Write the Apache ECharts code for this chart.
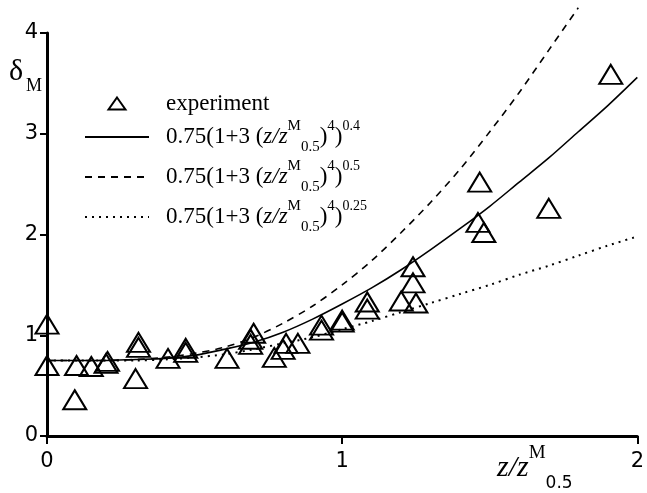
<!DOCTYPE html>
<html>
<head>
<meta charset="utf-8">
<script src="https://cdn.jsdelivr.net/npm/echarts@6/dist/echarts.min.js"></script>
<style>
html,body{margin:0;padding:0;background:#fff;}
#chart{width:647px;height:493px;}
</style>
</head>
<body>
<div id="chart"></div>
<script>
// ---- data ----
var expZ = [0, 0, 0.10, 0.094, 0.15, 0.205, 0.20, 0.31, 0.31, 0.30, 0.41, 0.47, 0.47, 0.61, 0.70, 0.69, 0.69, 0.77, 0.81, 0.80, 0.85, 0.93, 0.93, 1.0, 1.0, 1.085, 1.085, 1.24, 1.24, 1.20, 1.25, 1.466, 1.70, 1.46, 1.48, 1.91];
var expY = [1.11, 0.70, 0.70, 0.36, 0.69, 0.74, 0.72, 0.93, 0.88, 0.57, 0.77, 0.87, 0.83, 0.77, 1.02, 0.96, 0.91, 0.78, 0.92, 0.86, 0.92, 1.10, 1.05, 1.15, 1.13, 1.33, 1.26, 1.68, 1.52, 1.34, 1.32, 2.52, 2.26, 2.12, 2.02, 3.59];

var curveZ = [0, 0.1, 0.2, 0.3, 0.4, 0.5, 0.6, 0.7, 0.8, 0.9, 1.0, 1.1, 1.2, 1.3, 1.4, 1.5, 1.6, 1.7, 1.8, 1.9, 2.0];
var solidY  = [0.75, 0.75, 0.75, 0.76, 0.77, 0.80, 0.86, 0.93, 1.03, 1.16, 1.31, 1.47, 1.65, 1.85, 2.06, 2.28, 2.52, 2.76, 3.02, 3.28, 3.56];
var dashedY = [0.75, 0.75, 0.75, 0.76, 0.78, 0.82, 0.88, 0.98, 1.12, 1.29, 1.50, 1.74, 2.02, 2.32, 2.65, 3.02, 3.41, 3.83, 4.25];
var dottedY = [0.75, 0.75, 0.75, 0.75, 0.76, 0.78, 0.81, 0.86, 0.92, 0.98, 1.06, 1.14, 1.23, 1.32, 1.41, 1.50, 1.60, 1.69, 1.79, 1.89, 1.98];

var xTicks = [0, 1, 2];
var yTicks = [0, 1, 2, 3, 4];

var names = ['experiment', '0.75(1+3 (z/zM0.5)4)0.4', '0.75(1+3 (z/zM0.5)4)0.5', '0.75(1+3 (z/zM0.5)4)0.25'];
var exps = ['', '0.4', '0.5', '0.25'];

function zip(xs, ys) { var o = []; for (var i = 0; i < ys.length; i++) o.push([xs[i], ys[i]]); return o; }

var serif = '"Liberation Serif", "Times New Roman", serif';
var sans = '"DejaVu Sans", Verdana, sans-serif';

var chart = echarts.init(document.getElementById('chart'), null, {renderer: 'canvas'});
var option = {
  animation: false,
  backgroundColor: '#fff',
  grid: {left: 47, right: 5, top: 33, bottom: 57, containLabel: false},
  xAxis: {
    type: 'value', min: 0, max: 2, interval: 1,
    axisLine: {show: true, lineStyle: {color: '#000', width: 3}},
    axisTick: {show: true, length: 8, lineStyle: {color: '#000', width: 2}},
    axisLabel: {color: '#000', fontFamily: sans, fontSize: 21, margin: 15,
      formatter: function (v) { return xTicks.indexOf(v) >= 0 ? String(v) : ''; }},
    splitLine: {show: false}
  },
  yAxis: {
    type: 'value', min: 0, max: 4, interval: 1,
    axisLine: {show: true, lineStyle: {color: '#000', width: 3}},
    axisTick: {show: true, length: 7, lineStyle: {color: '#000', width: 2}},
    axisLabel: {color: '#000', fontFamily: sans, fontSize: 21, margin: 9,
      formatter: function (v) { return yTicks.indexOf(v) >= 0 ? String(v) : ''; }},
    splitLine: {show: false}
  },
  legend: {
    orient: 'vertical', left: 84, top: 92, padding: 0,
    itemWidth: 64, itemHeight: 12, itemGap: 4,
    data: [
      {name: names[0], icon: 'path://M12,0L24,17L0,17Z'},
      {name: names[1]}, {name: names[2]}, {name: names[3]}
    ],
    selectedMode: false,
    formatter: function (name) {
      var i = names.indexOf(name);
      if (i === 0) return '{pad|}{n|experiment}';
      return '{pad|}{n|0.75(1+3 (}{i|z/z}{sup|M}{sub|0.5}{n|)}{sup|4}{n|)}{sup2|' + exps[i] + '}';
    },
    textStyle: {
      color: '#000', fontFamily: serif, fontSize: 23,
      rich: {
        pad: {width: 12},
        n: {fontFamily: serif, fontSize: 23, lineHeight: 36, color: '#000'},
        i: {fontFamily: serif, fontSize: 23, lineHeight: 36, fontStyle: 'italic', color: '#000'},
        sup: {fontFamily: serif, fontSize: 15, lineHeight: 16, verticalAlign: 'top', color: '#000'},
        sup2: {fontFamily: serif, fontSize: 14, lineHeight: 10, verticalAlign: 'top', color: '#000'},
        sub: {fontFamily: serif, fontSize: 15, lineHeight: 14, verticalAlign: 'bottom', color: '#000'}
      }
    }
  },
  graphic: [
    {type: 'text', left: 9, top: 57, style: {text: 'δ', font: '30px "Liberation Serif", serif', fill: '#000'}},
    {type: 'text', left: 26, top: 77, style: {text: 'M', font: '18px "Liberation Serif", serif', fill: '#000'}},
    {type: 'text', left: 497, top: 444, style: {
      text: '{z|z/z}{sup|M}{sub|0.5}',
      rich: {
        z: {fontFamily: serif, fontSize: 30, fontStyle: 'italic', lineHeight: 48, color: '#000'},
        sup: {fontFamily: serif, fontSize: 19, lineHeight: 18, verticalAlign: 'top', color: '#000'},
        sub: {fontFamily: sans, fontSize: 17, lineHeight: 16, verticalAlign: 'bottom', color: '#000'}
      }
    }}
  ],
  series: [
    {
      name: names[0], type: 'scatter', data: zip(expZ, expY), z: 5,
      symbol: 'triangle', symbolSize: [23, 19],
      itemStyle: {color: 'rgba(0,0,0,0)', borderColor: '#000', borderWidth: 2, opacity: 1}
    },
    {
      name: names[1], type: 'line', data: zip(curveZ, solidY), smooth: 0.3,
      symbol: 'none', clip: false,
      lineStyle: {color: '#000', width: 1.6, type: 'solid'}, itemStyle: {color: 'rgba(0,0,0,0)'}
    },
    {
      name: names[2], type: 'line', data: zip(curveZ, dashedY), smooth: 0.3,
      symbol: 'none', clip: false,
      lineStyle: {color: '#000', width: 1.6, type: [7, 6]}, itemStyle: {color: 'rgba(0,0,0,0)'}
    },
    {
      name: names[3], type: 'line', data: zip(curveZ, dottedY), smooth: 0.3,
      symbol: 'none', clip: false,
      lineStyle: {color: '#000', width: 2, type: [2, 5]}, itemStyle: {color: 'rgba(0,0,0,0)'}
    }
  ]
};
chart.setOption(option);
</script>
</body>
</html>
